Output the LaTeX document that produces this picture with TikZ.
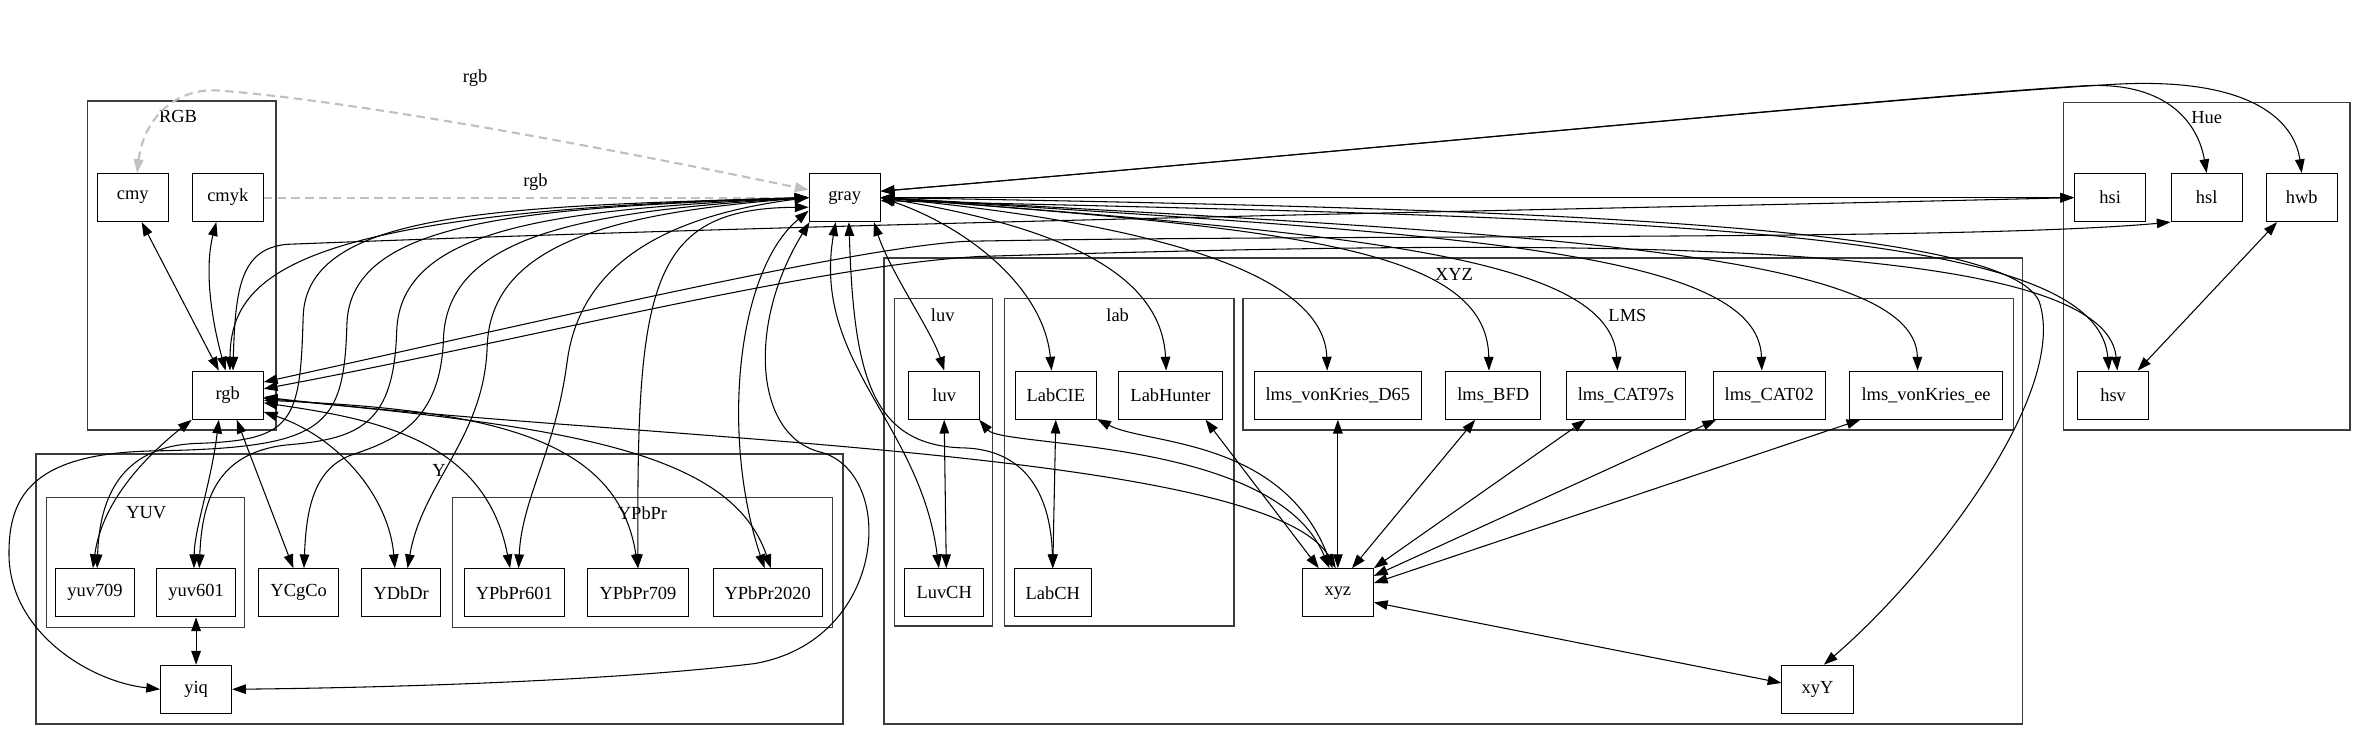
\documentclass[tikz,border=0pt]{standalone}
\usepackage{fontspec}
\setmainfont{Liberation Serif}
\usetikzlibrary{arrows.meta}
\definecolor{framegray}{HTML}{3C3C3C}
\definecolor{dashgray}{HTML}{C0C0C0}
\tikzset{
  cs/.style={draw, rectangle, minimum width=1.18cm, minimum height=0.8cm, inner xsep=5.5pt, font=\fontsize{8.7}{10}\selectfont},
  grp/.style={draw=framegray, line width=0.7pt},
  grplbl/.style={font=\fontsize{8.7}{10}\selectfont},
  conv/.style={<->, line width=0.5pt},
  viargb/.style={draw=dashgray, dash pattern=on 4pt off 2.5pt, line width=1pt},
}

\begin{document}
\begin{tikzpicture}[x=0.025cm, y=-0.025cm, >={Triangle[length=6.5pt,width=4.5pt]}]
  \useasboundingbox (0,0) rectangle (1568,491);

  % Grupos
  \draw[grp] (58,67) rectangle (183,285);
  \node[grplbl] (tRGB) at (118,77) {RGB};
  \draw[grp] (24,301) rectangle (559,480);
  \node[grplbl] (tY) at (291,312) {Y};
  \draw[grp] (31,330) rectangle (162,416);
  \node[grplbl] (tYUV) at (97,340) {YUV};
  \draw[grp] (300,330) rectangle (552,416);
  \node[grplbl] (tYPbPr) at (426,340) {YPbPr};
  \draw[grp] (586,171) rectangle (1341,480);
  \node[grplbl] (tXYZ) at (964,182) {XYZ};
  \draw[grp] (593,198) rectangle (658,415);
  \node[grplbl] (tluv) at (625,209) {luv};
  \draw[grp] (666,198) rectangle (818,415);
  \node[grplbl] (tlab) at (741,209) {lab};
  \draw[grp] (824,198) rectangle (1335,285);
  \node[grplbl] (tLMS) at (1079,209) {LMS};
  \draw[grp] (1368,68) rectangle (1558,285);
  \node[grplbl] (tHue) at (1463,78) {Hue};

  % Espacios de color
  \node[cs] (cmy) at (88,131) {cmy};
  \node[cs] (cmyk) at (151,131) {cmyk};
  \node[cs] (rgb) at (151,262) {rgb};
  \node[cs] (gray) at (560,131) {gray};
  \node[cs] (hsi) at (1399,131) {hsi};
  \node[cs] (hsl) at (1463,131) {hsl};
  \node[cs] (hwb) at (1526,131) {hwb};
  \node[cs] (hsv) at (1401,262) {hsv};
  \node[cs] (yuv709) at (63,393) {yuv709};
  \node[cs] (yuv601) at (130,393) {yuv601};
  \node[cs] (YCgCo) at (198,393) {YCgCo};
  \node[cs] (YDbDr) at (266,393) {YDbDr};
  \node[cs] (YPbPr601) at (341,393) {YPbPr601};
  \node[cs] (YPbPr709) at (423,393) {YPbPr709};
  \node[cs] (YPbPr2020) at (509,393) {YPbPr2020};
  \node[cs] (yiq) at (130,457) {yiq};
  \node[cs] (luv) at (626,262) {luv};
  \node[cs] (LuvCH) at (626,393) {LuvCH};
  \node[cs] (LabCIE) at (700,262) {LabCIE};
  \node[cs] (LabHunter) at (776,262) {LabHunter};
  \node[cs] (LabCH) at (698,393) {LabCH};
  \node[cs] (lmsD65) at (887,262) {lms\_vonKries\_D65};
  \node[cs] (lmsBFD) at (990,262) {lms\_BFD};
  \node[cs] (lmsCATs) at (1078,262) {lms\_CAT97s};
  \node[cs] (lmsCAT) at (1173,262) {lms\_CAT02};
  \node[cs] (lmsEE) at (1277,262) {lms\_vonKries\_ee};
  \node[cs] (xyz) at (887,393) {xyz};
  \node[cs] (xyY) at (1205,457) {xyY};

  % Conversiones punteadas
  \draw[viargb, <->] (cmy.80) .. controls (95,80) and (115,58) .. (145,60) .. controls (250,68) and (450,108) .. (gray.168);
  \node[grplbl] (lcmy) at (315,52) {rgb};
  \draw[viargb, ->] (cmyk.east) -- (gray.west);
  \node[grplbl] (lcmyk) at (355,121) {rgb};

  % Desde rgb
  \draw[conv] (cmy.-70) -- (rgb.110);
  \draw[conv] (cmyk.-115) .. controls (135,180) and (141,215) .. (rgb.95);
  \draw[conv] (rgb.85) .. controls (153,180) and (200,140) .. (gray.west);
  \draw[conv] (rgb.78) .. controls (156,190) and (160,165) .. (190,162) .. controls (600,146) and (1100,138) .. (hsi.west);
  \draw[conv] (rgb.20) .. controls (350,215) and (560,165) .. (640,160) .. controls (900,155) and (1300,160) .. (hsl.south west);
  \draw[conv] (rgb.10) .. controls (350,225) and (540,176) .. (650,170) .. controls (1000,160) and (1395,152) .. ([xshift=2pt]hsv.north);
  \draw[conv] (rgb.south west) .. controls (100,300) and (68,330) .. ([xshift=-1pt]yuv709.north);
  \draw[conv] (rgb.-110) .. controls (140,320) and (129,350) .. ([xshift=-1pt]yuv601.north);
  \draw[conv] (rgb.-70) -- ([xshift=-2.5pt]YCgCo.north);
  \draw[conv] (rgb.-25) .. controls (225,290) and (258,330) .. ([xshift=-3pt]YDbDr.north);
  \draw[conv] (rgb.-12) .. controls (250,278) and (322,292) .. ([xshift=-2pt]YPbPr601.north);
  \draw[conv] (rgb.-8) .. controls (330,272) and (410,292) .. (YPbPr709.north);
  \draw[conv] (rgb.-5) .. controls (380,283) and (485,300) .. ([xshift=1.5pt]YPbPr2020.north);
  \draw[conv] (rgb.-3) .. controls (420,292) and (840,298) .. ([xshift=-1pt]xyz.north);

  % Desde gray hacia Y
  \draw[conv] (gray.west) .. controls (330,137) and (203,140) .. (201,210) .. controls (199,280) and (195,292) .. (130,294) .. controls (80,296) and (66,330) .. ([xshift=1pt]yuv709.north);
  \draw[conv] (gray.west) .. controls (350,138) and (232,145) .. (230,215) .. controls (228,285) and (215,297) .. (100,299) .. controls (20,301) and (5,330) .. (6,370) .. controls (8,420) and (60,452) .. (yiq.west);
  \draw[conv] (gray.west) .. controls (370,139) and (265,150) .. (263,220) .. controls (261,280) and (240,291) .. (190,295) .. controls (145,300) and (134,330) .. ([xshift=1.5pt]yuv601.north);
  \draw[conv] (gray.west) .. controls (390,140) and (296,155) .. (294,225) .. controls (292,280) and (262,292) .. (232,302) .. controls (207,312) and (203,340) .. ([xshift=2.5pt]YCgCo.north);
  \draw[conv] (gray.west) .. controls (410,141) and (325,160) .. (323,230) .. controls (321,290) and (280,320) .. ([xshift=3pt]YDbDr.north);
  \draw[conv] (gray.west) .. controls (450,142) and (385,170) .. (376,240) .. controls (368,300) and (346,330) .. ([xshift=2pt]YPbPr601.north);
  \draw[conv] (gray.-165) .. controls (430,138) and (422,190) .. (YPbPr709.north);
  \draw[conv] (gray.-160) .. controls (488,180) and (478,290) .. ([xshift=-1.5pt]YPbPr2020.north);
  \draw[conv] (gray.-145) .. controls (495,215) and (500,290) .. (545,300) .. controls (595,315) and (588,425) .. (500,440) .. controls (400,452) and (250,456) .. (yiq.east);
  \draw[conv] (yuv601.south) -- (yiq.north);

  % Desde gray hacia XYZ
  \draw[conv] (gray.-110) .. controls (538,240) and (610,280) .. ([xshift=-2.5pt]LuvCH.north);
  \draw[conv] (gray.-80) .. controls (566,250) and (578,296) .. (640,297) .. controls (688,299) and (697,340) .. (LabCH.north);
  \draw[conv] (gray.-40) .. controls (590,180) and (618,220) .. (luv.north);
  \draw[conv] (gray.east) .. controls (640,150) and (692,190) .. ([xshift=-2pt]LabCIE.north);
  \draw[conv] (gray.east) .. controls (700,150) and (770,180) .. ([xshift=-2pt]LabHunter.north);
  \draw[conv] (gray.east) .. controls (780,150) and (878,185) .. ([xshift=-5pt]lmsD65.north);
  \draw[conv] (gray.east) .. controls (860,152) and (986,165) .. ([xshift=-2pt]lmsBFD.north);
  \draw[conv] (gray.east) .. controls (900,155) and (1068,170) .. ([xshift=-4pt]lmsCATs.north);
  \draw[conv] (gray.east) .. controls (960,155) and (1166,165) .. ([xshift=-3.5pt]lmsCAT.north);
  \draw[conv] (gray.east) .. controls (1010,155) and (1270,165) .. ([xshift=-4pt]lmsEE.north);
  \draw[conv] (gray.east) .. controls (1000,138) and (1330,148) .. (1352,200) .. controls (1372,260) and (1280,380) .. ([xshift=3pt]xyY.north);

  % Desde gray hacia Hue
  \draw[conv] (gray.east) -- (hsi.west);
  \draw[conv] (gray.10) .. controls (900,100) and (1250,65) .. (1380,57) .. controls (1440,53) and (1458,85) .. (hsl.north);
  \draw[conv] (gray.10) .. controls (900,100) and (1250,65) .. (1400,56) .. controls (1500,50) and (1522,85) .. (hwb.north);
  \draw[conv] (gray.-5) .. controls (1100,145) and (1390,150) .. ([xshift=-2pt]hsv.north);
  \draw[conv] (hwb.-135) -- (hsv.45);

  % Dentro de XYZ
  \draw[conv] (luv.south) -- ([xshift=1pt]LuvCH.north);
  \draw[conv] (LabCIE.south) -- (LabCH.north);
  \draw[conv] (luv.-35) .. controls (665,297) and (845,290) .. ([xshift=-4pt]xyz.north);
  \draw[conv] (LabCIE.-30) .. controls (760,295) and (850,290) .. ([xshift=-2.5pt]xyz.north);
  \draw[conv] (LabHunter.-35) -- ([xshift=-9pt]xyz.north);
  \draw[conv] (xyz.north) -- (lmsD65.south);
  \draw[conv] (xyz.60) -- ([xshift=-8.5pt]lmsBFD.south);
  \draw[conv] (xyz.north east) -- ([xshift=-19pt]lmsCATs.south);
  \draw[conv] (xyz.25) -- ([xshift=-25pt]lmsCAT.south);
  \draw[conv] (xyz.15) -- ([xshift=-31pt]lmsEE.south);
  \draw[conv] (xyz.-15) -- (xyY.170);
\end{tikzpicture}
\end{document}
